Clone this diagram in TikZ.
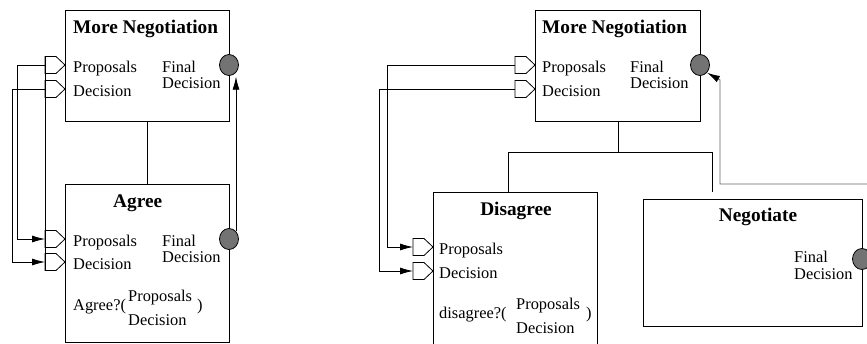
\documentclass[tikz,border=0pt]{standalone}
\usepackage{fontspec}
\setmainfont{Liberation Serif}
\usetikzlibrary{shapes.geometric,arrows.meta,calc}

\tikzset{
  blockbox/.style={draw=black, line width=1pt, fill=white, rectangle, inner sep=0pt, anchor=north west},
  lbl/.style={inner sep=0pt, anchor=base west, font=\fontsize{16.4}{17}\selectfont},
  ttl/.style={inner sep=0pt, anchor=base west, font=\fontsize{19.3}{20}\selectfont\bfseries},
  fdot/.style={draw=black, line width=0.8pt, fill=black!55, ellipse, inner sep=0pt,
               minimum width=19pt, minimum height=21pt},
  wire/.style={draw=black, line width=0.8pt},
  greywire/.style={draw=black!60, line width=0.9pt},
  wiretip/.style={-{Latex[length=13pt,width=7pt,black]}},
  portpic/.pic={
    \draw[line width=0.8pt, fill=white] (-20,-8.5) -- (-9,-8.5) -- (0,0) -- (-9,8.5) -- (-20,8.5) -- cycle;
    \coordinate (-in) at (-20,0);
    \coordinate (-top) at (-20,-8.5);
    \coordinate (-bot) at (-20,8.5);
  }
}

\begin{document}
\begin{tikzpicture}[x=1pt, y=-1pt]
\clip (0,0) rectangle (867,343);
\fill[white] (0,0) rectangle (867,343);

% ---------- left: More Negotiation refined by Agree ----------
\node[blockbox, minimum width=164pt, minimum height=111pt] (mnA) at (65,10) {};
\node[blockbox, minimum width=164pt, minimum height=158pt] (ag) at (65,184) {};
\draw[wire] (mnA.south) -- (ag.north);

\node[ttl] (mnAt) at (73,33.5) {More Negotiation};
\pic (mnAp) at (65,65) {portpic};
\pic (mnAd) at (65,89) {portpic};
\node[lbl] (mnAl1) at (73,72.5) {Proposals};
\node[lbl] (mnAl2) at (73,96.5) {Decision};
\node[lbl] (mnAf1) at (162,72.5) {Final};
\node[lbl] (mnAf2) at (162,88.5) {Decision};
\node[fdot] (cA) at (229,65) {};

\node[ttl] (agt) at (113,207) {Agree};
\pic (agp) at (65,239) {portpic};
\pic (agd) at (65,262) {portpic};
\node[lbl] (agl1) at (73,246.5) {Proposals};
\node[lbl] (agl2) at (73,269.5) {Decision};
\node[lbl] (agf1) at (162,246) {Final};
\node[lbl] (agf2) at (162,262) {Decision};
\node[fdot] (cB) at (229,239) {};
\node[lbl] (agq) at (73,310) {Agree?(};
\node[lbl] (agq1) at (128,301) {Proposals};
\node[lbl] (agq2) at (128,325) {Decision};
\node[lbl] (agq3) at (197,310) {)};

% inputs passed down to the refinement
\draw[wire] (mnAp-top) -- (agd-bot);
\draw[wire, wiretip] (mnAp-in) -- ++(-28,0) |- (agp-in);
\draw[wire, wiretip] (mnAd-in) -- ++(-33,0) |- (agd-in);
% final decision passed up
\draw[wire, wiretip, shorten >=4pt] (cB.north east) -- (cB.north east |- cA.south east);

% ---------- right: More Negotiation refined by Disagree / Negotiate ----------
\node[blockbox, minimum width=165pt, minimum height=111pt] (mnB) at (535,10) {};
\node[blockbox, minimum width=164pt, minimum height=170pt] (dis) at (433,192) {};
\node[blockbox, minimum width=219pt, minimum height=127pt] (neg) at (643,199) {};

\node[ttl] (mnBt) at (542,33.5) {More Negotiation};
\pic (mnBp) at (535,65) {portpic};
\pic (mnBd) at (535,89) {portpic};
\node[lbl] (mnBl1) at (542,72.5) {Proposals};
\node[lbl] (mnBl2) at (542,96.5) {Decision};
\node[lbl] (mnBf1) at (630,72.5) {Final};
\node[lbl] (mnBf2) at (630,88.5) {Decision};
\node[fdot] (cC) at (700,65) {};

% refinement tree
\coordinate (brL) at (508,152);
\coordinate (brR) at (712,152);
\coordinate (brRe) at (712,192);
\draw[wire] (mnB.south) -- (mnB.south |- brL);
\draw[wire] (brL |- dis.north) -- (brL) -- (brR) -- (brRe);

\node[ttl, anchor=base] (dist) at (516,215.5) {Disagree};
\pic (disp) at (433,247) {portpic};
\pic (disd) at (433,271) {portpic};
\node[lbl] (disl1) at (439,254.5) {Proposals};
\node[lbl] (disl2) at (439,278.5) {Decision};
\node[lbl] (disq) at (439,318) {disagree?(};
\node[lbl] (disq1) at (516,309) {Proposals};
\node[lbl] (disq2) at (516,333) {Decision};
\node[lbl] (disq3) at (586,318) {)};

\draw[wire, wiretip] (mnBp-in) -- ++(-128,0) |- (disp-in);
\draw[wire, wiretip] (mnBd-in) -- ++(-136,0) |- (disd-in);

\node[ttl, anchor=base] (negt) at (758,221) {Negotiate};
\node[lbl] (negf1) at (794,262.5) {Final};
\node[lbl] (negf2) at (794,279) {Decision};
\node[fdot] (cD) at (862,259) {};

% final decision routed back up to the parent
\coordinate (ret) at (890,184);
\draw[greywire, wiretip] (ret) -- (720,184) -- (720,80) -- (cC.south east);
\end{tikzpicture}
\end{document}
